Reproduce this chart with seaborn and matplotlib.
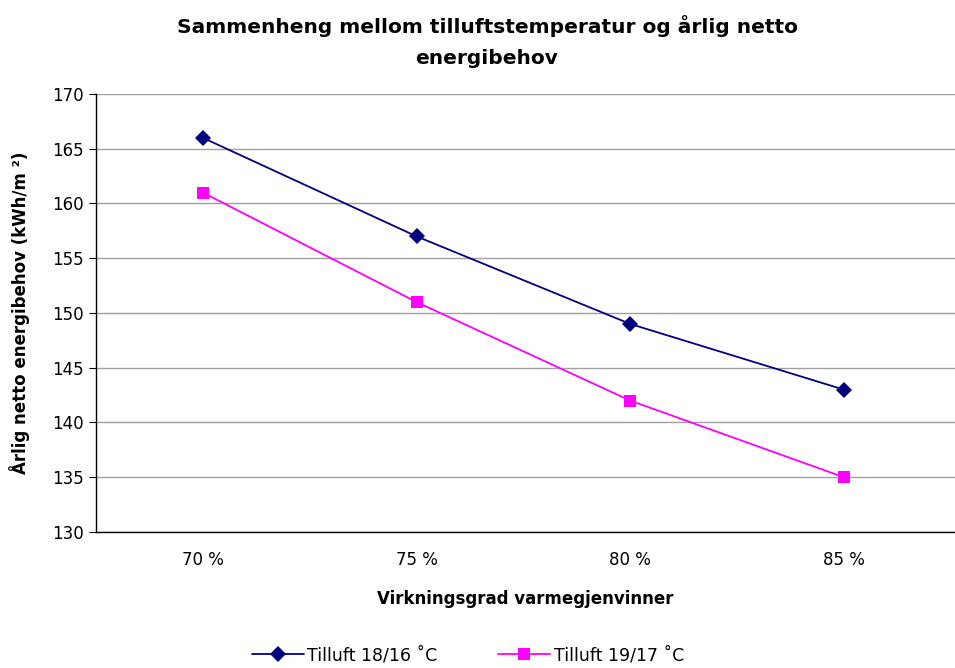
import numpy as np
import pandas as pd
import matplotlib
matplotlib.use("Agg")
import matplotlib.pyplot as plt
import seaborn as sns

# Data
categories = ["70 %", "75 %", "80 %", "85 %"]
series_1816 = [166, 157, 149, 143]
series_1917 = [161, 151, 142, 135]
labels = ["Tilluft 18/16 ˚C", "Tilluft 19/17 ˚C"]

df = pd.DataFrame({
    "grad": list(range(len(categories))) * 2,
    "verdi": series_1816 + series_1917,
    "serie": [labels[0]] * 4 + [labels[1]] * 4,
})

sns.set_style("white")
plt.rcParams["font.family"] = ["DejaVu Sans"]
plt.rcParams.update({"text.color": "black", "axes.labelcolor": "black",
                     "xtick.color": "black", "ytick.color": "black"})

fig = plt.figure(figsize=(9.55, 6.68), dpi=100)
ax = fig.add_axes([96 / 955, 1 - 532 / 668, 859 / 955, 438 / 668])

sns.lineplot(data=df, x="grad", y="verdi", hue="serie", style="serie",
             palette=["#000080", "#FF00FF"], markers=["D", "s"], dashes=False,
             markersize=8, linewidth=1.3, markeredgewidth=0, ax=ax)

ax.set_xlim(-0.5, 3.52)
ax.set_ylim(130, 170)
ax.set_yticks(np.arange(130, 171, 5))
ax.set_xticks(range(len(categories)))
ax.set_xticklabels(categories)
ax.set_xticks(np.arange(-0.5, 3.6, 1), minor=True)
ax.yaxis.grid(True, color="#A0A0A0", linewidth=1)
ax.xaxis.grid(False)
ax.tick_params(axis="x", which="major", length=0, labelsize=12, pad=14)
ax.tick_params(axis="x", which="minor", length=5, color="black", direction="out")
ax.tick_params(axis="y", length=5, color="black", direction="out", labelsize=12,
               left=True, pad=4)
for s in ["top", "right"]:
    ax.spines[s].set_visible(False)
for s in ["left", "bottom"]:
    ax.spines[s].set_color("black")
    ax.spines[s].set_linewidth(1)

ax.set_xlabel("Virkningsgrad varmegjenvinner", fontsize=12, fontweight="bold", labelpad=15)
ax.set_ylabel("Årlig netto energibehov (kWh/m ²)", fontsize=12, fontweight="bold", labelpad=16)
fig.text(0.51, 0.978, "Sammenheng mellom tilluftstemperatur og årlig netto\nenergibehov",
         ha="center", va="top", fontsize=14.5, fontweight="bold", linespacing=1.85)

handles, lbls = ax.get_legend_handles_labels()
ax.legend(handles, lbls, loc="center", bbox_to_anchor=(468 / 955, 1 - 655 / 668),
          bbox_transform=fig.transFigure, ncol=2, frameon=False, fontsize=12.5,
          columnspacing=3.5, handlelength=3, handletextpad=0.2)

fig.savefig("out.png", dpi=100)
